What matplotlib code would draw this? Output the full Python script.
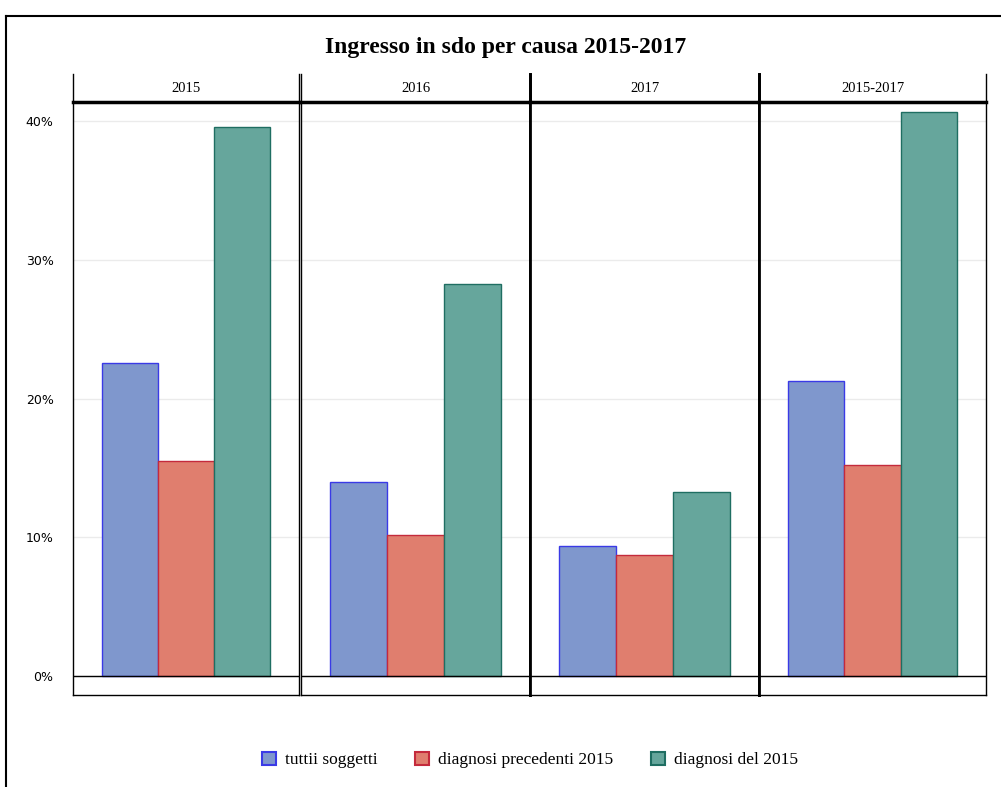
import numpy as np
import matplotlib
matplotlib.use("Agg")
import matplotlib.pyplot as plt
from matplotlib.patches import Patch
from matplotlib.lines import Line2D

# dati (percentuali)
periods = ["2015", "2016", "2017", "2015-2017"]
series = ["tuttii soggetti", "diagnosi precedenti 2015", "diagnosi del 2015"]
tutti = [22.6, 14.0, 9.4, 21.3]
precedenti = [15.5, 10.2, 8.7, 15.2]
del2015 = [39.6, 28.25, 13.3, 40.7]
yticks = [0, 10, 20, 30, 40]

fills = ["#7f97cd", "#e07e6e", "#66a69c"]
edges = ["#3a3ae6", "#c42a3c", "#1f6e62"]

W, H = 1001, 787
fig = plt.figure(figsize=(W / 100, H / 100), dpi=100)
serif = "Liberation Serif"

# cornice esterna (solo sinistra e in alto, il resto e' tagliato)
fig.add_artist(Line2D([6 / W, 6 / W], [0, 1 - 16 / H], color="black", lw=1.5))
fig.add_artist(Line2D([6 / W, 1], [1 - 16 / H, 1 - 16 / H], color="black", lw=1.5))

fig.text(506 / W, 1 - 48 / H, "Ingresso in sdo per causa 2015-2017",
         ha="center", va="center", fontsize=17, fontweight="bold", family=serif)

edges_px = [(73, 299), (301, 530), (530, 759), (759, 986)]
y_bot, y_top, strip_top = 695, 102, 74
vals = np.array([tutti, precedenti, del2015])

# spessore dei bordi verticali: sottili tra il 1o e il 2o pannello
side_lw = [(1.0, 1.0), (1.0, 2.0), (2.0, 2.0), (2.0, 1.0)]

for i, (x0, x1) in enumerate(edges_px):
    ax = fig.add_axes([x0 / W, 1 - y_bot / H, (x1 - x0) / W, (y_bot - y_top) / H])
    for k in range(3):
        ax.bar(k, vals[k, i], width=1.0, color=fills[k], edgecolor=edges[k],
               linewidth=1.0, zorder=3)
    ax.set_xlim(-1.02, 3.02)
    ax.set_ylim(-1.37, 41.4)
    ax.set_yticks(yticks)
    ax.yaxis.grid(True, color="#ebebeb", lw=1, zorder=0)
    ax.axhline(0, color="black", lw=1, zorder=4)
    ax.set_xticks([])
    ax.tick_params(axis="y", length=0, pad=14)
    if i == 0:
        ax.set_yticklabels([f"{t}%" for t in yticks], fontsize=9, family="DejaVu Sans")
    else:
        ax.set_yticklabels([])
    ax.spines["left"].set_linewidth(side_lw[i][0])
    ax.spines["right"].set_linewidth(side_lw[i][1])
    ax.spines["bottom"].set_linewidth(1.0)
    ax.spines["top"].set_linewidth(2.5)

    # striscia con l'etichetta del periodo
    st = fig.add_axes([x0 / W, 1 - y_top / H, (x1 - x0) / W, (y_top - strip_top) / H])
    st.set_xticks([])
    st.set_yticks([])
    st.spines["top"].set_visible(False)
    st.spines["bottom"].set_visible(False)
    st.spines["left"].set_linewidth(side_lw[i][0])
    st.spines["right"].set_linewidth(side_lw[i][1])
    st.set_facecolor("none")
    st.text(0.5, 0.5, periods[i], ha="center", va="center", fontsize=10.5,
            family=serif, transform=st.transAxes)

handles = [Patch(facecolor=fills[k], edgecolor=edges[k], lw=1.5, label=series[k])
           for k in range(3)]
fig.legend(handles=handles, loc="center", bbox_to_anchor=(530 / W, 1 - 760 / H),
           ncol=3, frameon=False, prop={"family": serif, "size": 12.5},
           handlelength=0.8, handleheight=0.8, handletextpad=0.5, columnspacing=2.2)

fig.savefig("out.png", dpi=100)
